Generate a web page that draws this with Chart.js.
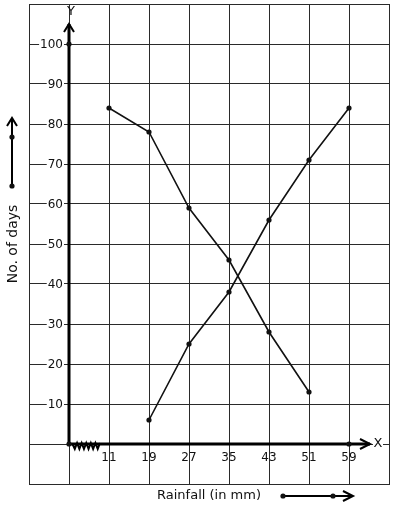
<!DOCTYPE html>
<html>
<head>
<meta charset="utf-8">
<script src="https://cdn.jsdelivr.net/npm/chart.js@4.4.1/dist/chart.umd.min.js"></script>
<style>
  html, body { margin: 0; padding: 0; background: #fff; }
  #wrap { width: 394px; height: 510px; }
</style>
</head>
<body>
<div id="wrap"><canvas id="chart" width="394" height="510"></canvas></div>
<script>
// rainfall classes (mm) and number of days for the two curves
const rainfall = [11, 19, 27, 35, 43, 51, 59];
const daysFalling = [84, 78, 59, 46, 28, 13, null];
const daysRising = [null, 6, 25, 38, 56, 71, 84];
const yTickLabels = [10, 20, 30, 40, 50, 60, 70, 80, 90, 100];
const xGrid = [-5, 3, 11, 19, 27, 35, 43, 51, 59, 67];
const yGrid = [-10, 0, 10, 20, 30, 40, 50, 60, 70, 80, 90, 100, 110];

// origin sits at 3 on the scale because of the axis break
const xOrigin = 3;
const axisDots = [
  { x: xOrigin, y: 0 },
  { x: xOrigin, y: 100 },
  { x: 59, y: 0 },
];

const FONT = "DejaVu Sans";
const INK = "#111";

function pairs(values) {
  return rainfall
    .map((x, i) => ({ x, y: values[i] }))
    .filter((p) => p.y !== null);
}

function chevronUp(ctx, x, y) {
  ctx.beginPath();
  ctx.moveTo(x - 5, y + 8);
  ctx.lineTo(x, y);
  ctx.lineTo(x + 5, y + 8);
  ctx.stroke();
}

function chevronRight(ctx, x, y) {
  ctx.beginPath();
  ctx.moveTo(x - 10, y - 5);
  ctx.lineTo(x, y);
  ctx.lineTo(x - 10, y + 5);
  ctx.stroke();
}

function dot(ctx, x, y) {
  ctx.beginPath();
  ctx.arc(x, y, 2.6, 0, Math.PI * 2);
  ctx.fill();
}

const decorations = {
  id: "decorations",
  beforeDatasetsDraw(chart) {
    const ctx = chart.ctx;
    const xs = chart.scales.x;
    const ys = chart.scales.y;
    const ox = xs.getPixelForValue(xOrigin);
    const oy = ys.getPixelForValue(0);
    ctx.save();

    // y tick labels with white backing
    ctx.font = `12px ${FONT}`;
    ctx.textAlign = "right";
    ctx.textBaseline = "middle";
    yTickLabels.forEach((v) => {
      const py = ys.getPixelForValue(v);
      const w = ctx.measureText(String(v)).width;
      ctx.fillStyle = "#fff";
      ctx.fillRect(63 - w - 1, py - 6, w + 2, 12);
      ctx.fillStyle = INK;
      ctx.fillText(String(v), 63, py + 0.5);
    });

    // x tick labels
    ctx.textAlign = "center";
    rainfall.forEach((v) => {
      ctx.fillText(String(v), xs.getPixelForValue(v), oy + 13.5);
    });

    // main axes
    ctx.strokeStyle = "#000";
    ctx.lineWidth = 3;
    const yTop = ys.getPixelForValue(105);
    const xEnd = xs.getPixelForValue(63.2);
    ctx.beginPath();
    ctx.moveTo(ox, oy);
    ctx.lineTo(ox, yTop);
    ctx.moveTo(ox, oy);
    ctx.lineTo(xEnd, oy);
    ctx.stroke();
    ctx.lineWidth = 2;
    chevronUp(ctx, ox, yTop);
    chevronRight(ctx, xEnd, oy);

    // axis letters
    ctx.font = `13px ${FONT}`;
    ctx.fillStyle = "#fff";
    ctx.fillRect(xEnd + 3, oy - 6, 10, 12);
    ctx.fillStyle = INK;
    ctx.textAlign = "center";
    ctx.fillText("X", xEnd + 8, oy);
    ctx.fillText("Y", ox + 2, 12);

    // axis break zigzag
    const z0 = xs.getPixelForValue(3.7);
    const z1 = xs.getPixelForValue(9.2);
    const teeth = 6;
    ctx.lineWidth = 2;
    ctx.beginPath();
    ctx.moveTo(z0, oy);
    for (let i = 0; i < teeth; i += 1) {
      const a = z0 + ((z1 - z0) * i) / teeth;
      const b = z0 + ((z1 - z0) * (i + 0.5)) / teeth;
      const c = z0 + ((z1 - z0) * (i + 1)) / teeth;
      ctx.lineTo(b, oy + 5);
      ctx.lineTo(c, oy - 1);
    }
    ctx.stroke();

    // axis titles with their arrows
    ctx.font = `13px ${FONT}`;
    ctx.fillText("Rainfall (in mm)", 209, 496);
    ctx.beginPath();
    ctx.moveTo(283, 496);
    ctx.lineTo(353, 496);
    ctx.stroke();
    chevronRight(ctx, 353, 496);
    dot(ctx, 283, 496);
    dot(ctx, 333, 496);

    ctx.save();
    ctx.translate(13, 244);
    ctx.rotate(-Math.PI / 2);
    ctx.font = `14px ${FONT}`;
    ctx.fillText("No. of days", 0, 0);
    ctx.restore();
    ctx.beginPath();
    ctx.moveTo(12, 186);
    ctx.lineTo(12, 118);
    ctx.stroke();
    chevronUp(ctx, 12, 118);
    dot(ctx, 12, 137);
    dot(ctx, 12, 186);

    ctx.restore();
  },
};

const lineStyle = {
  borderColor: INK,
  backgroundColor: INK,
  borderWidth: 1.6,
  pointRadius: 2.6,
  pointBorderWidth: 0,
  tension: 0,
  fill: false,
};

new Chart(document.getElementById("chart"), {
  type: "line",
  data: {
    datasets: [
      { ...lineStyle, data: pairs(daysFalling) },
      { ...lineStyle, data: pairs(daysRising) },
      { ...lineStyle, data: axisDots, showLine: false },
    ],
  },
  options: {
    responsive: false,
    devicePixelRatio: 1,
    animation: false,
    layout: { padding: { left: 29, right: 5, top: 4, bottom: 26 } },
    plugins: { legend: { display: false }, tooltip: { enabled: false } },
    scales: {
      x: {
        type: "linear",
        min: -5,
        max: 67,
        afterBuildTicks: (scale) => {
          scale.ticks = xGrid.map((v) => ({ value: v }));
        },
        ticks: { display: false },
        grid: { color: "#2a2a2a", lineWidth: 1, drawTicks: false },
        border: { display: true, color: "#2a2a2a", width: 1 },
      },
      y: {
        type: "linear",
        min: -10,
        max: 110,
        afterBuildTicks: (scale) => {
          scale.ticks = yGrid.map((v) => ({ value: v }));
        },
        ticks: { display: false },
        grid: { color: "#2a2a2a", lineWidth: 1, drawTicks: false },
        border: { display: true, color: "#2a2a2a", width: 1 },
      },
    },
  },
  plugins: [decorations],
});
</script>
</body>
</html>
